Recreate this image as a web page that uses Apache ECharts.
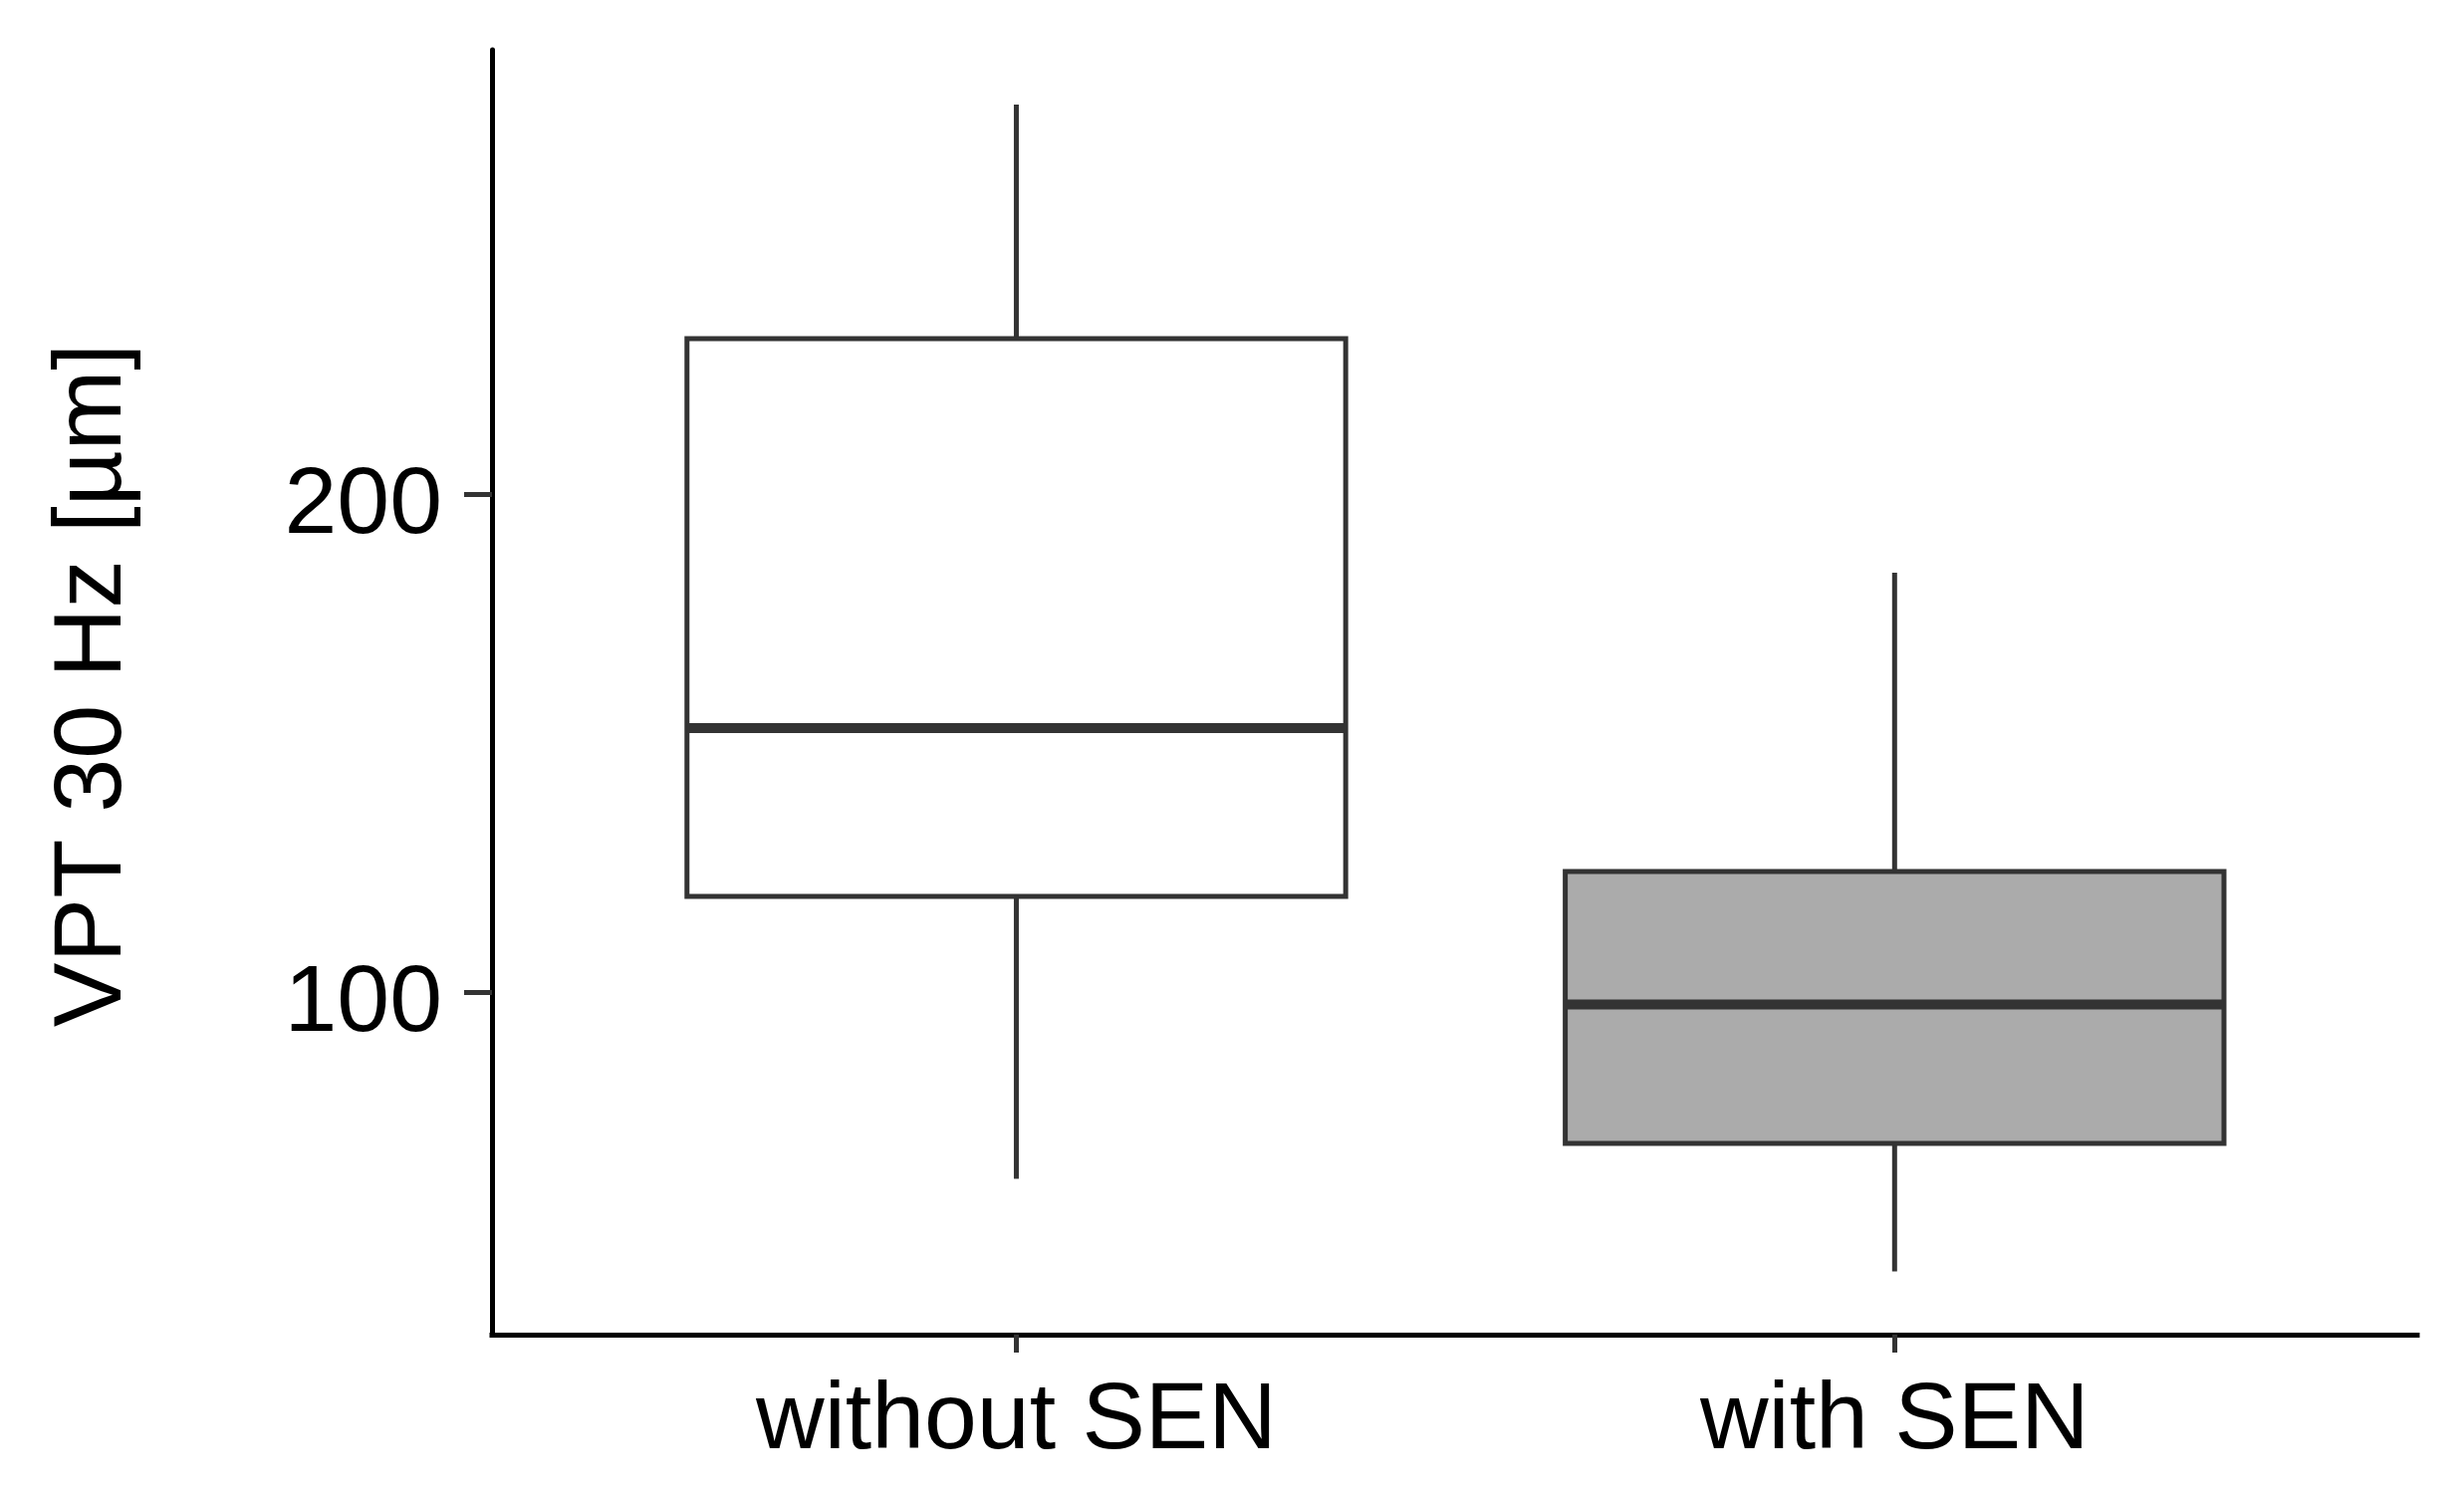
<!DOCTYPE html>
<html>
<head>
<meta charset="utf-8">
<script src="https://cdn.jsdelivr.net/npm/echarts@6/dist/echarts.min.js"></script>
<style>
  html, body { margin: 0; padding: 0; background: #ffffff; }
  #chart { width: 2474px; height: 1503px; }
</style>
</head>
<body>
<div id="chart"></div>
<script>
// ---- data ----
const categories   = ['without SEN', 'with SEN'];
const whiskerLow   = [62.6, 44.0];
const quartile1    = [119.3, 69.7];
const medianValue  = [153.1, 97.6];
const quartile3    = [231.3, 124.3];
const whiskerHigh  = [278.3, 184.3];
const yTickValues  = [100, 200];
const yTickLabels  = ['100', '200'];

// ---- styles ----
const boxFills = ['#FFFFFF', '#ABABAB'];
const lineColor = '#333333';
const BOX_WIDTH = 0.75;   // in category units

const boxData = categories.map((c, i) => [i + 1, whiskerLow[i], quartile1[i], medianValue[i], quartile3[i], whiskerHigh[i]]);

const chart = echarts.init(document.getElementById('chart'), null, { renderer: 'canvas' });

const option = {
  backgroundColor: '#ffffff',
  animation: false,
  grid: { left: 494, right: 47, top: 50, bottom: 163, containLabel: false },
  xAxis: {
    type: 'value',
    min: 0.403,
    max: 2.595,
    axisLine: { show: true, onZero: false, lineStyle: { color: '#000000', width: 5, cap: 'square' } },
    axisTick: { show: true, customValues: [1, 2], length: 18, lineStyle: { color: lineColor, width: 5 } },
    axisLabel: {
      show: true,
      customValues: [1, 2],
      formatter: v => categories[Math.round(v) - 1] || '',
      fontFamily: 'Liberation Sans, Arial, sans-serif',
      fontSize: 95,
      color: '#000000',
      margin: 40
    },
    splitLine: { show: false }
  },
  yAxis: {
    type: 'value',
    min: 31.3,
    max: 289.3,
    name: 'VPT 30 Hz [µm]',
    nameLocation: 'middle',
    nameGap: 351,
    nameTextStyle: {
      fontFamily: 'Liberation Sans, Arial, sans-serif',
      fontSize: 97,
      color: '#000000',
      padding: [0, 0, 0, 14]
    },
    axisLine: { show: true, onZero: false, lineStyle: { color: '#000000', width: 5 } },
    axisTick: { show: true, customValues: yTickValues, length: 28, lineStyle: { color: lineColor, width: 5 } },
    axisLabel: {
      show: true,
      customValues: yTickValues,
      formatter: v => yTickLabels[yTickValues.indexOf(v)] || String(v),
      fontFamily: 'Liberation Sans, Arial, sans-serif',
      fontSize: 95,
      color: '#000000',
      margin: 50,
      verticalAlign: 'top',
      lineHeight: 24
    },
    splitLine: { show: false }
  },
  series: [{
    type: 'custom',
    data: boxData,
    encode: { x: 0, y: [1, 2, 3, 4, 5] },
    renderItem: function (params, api) {
      const x = api.value(0);
      const lo = api.coord([x, api.value(1)]);
      const b1 = api.coord([x, api.value(2)]);
      const md = api.coord([x, api.value(3)]);
      const b3 = api.coord([x, api.value(4)]);
      const hi = api.coord([x, api.value(5)]);
      const halfW = api.size([BOX_WIDTH, 0])[0] / 2;
      const fill = boxFills[params.dataIndex];
      return {
        type: 'group',
        children: [
          { type: 'line', shape: { x1: hi[0], y1: hi[1], x2: b3[0], y2: b3[1] }, style: { stroke: lineColor, lineWidth: 5 } },
          { type: 'line', shape: { x1: lo[0], y1: lo[1], x2: b1[0], y2: b1[1] }, style: { stroke: lineColor, lineWidth: 5 } },
          { type: 'rect', shape: { x: b3[0] - halfW, y: b3[1], width: 2 * halfW, height: b1[1] - b3[1] }, style: { fill: fill, stroke: lineColor, lineWidth: 5 } },
          { type: 'line', shape: { x1: md[0] - halfW, y1: md[1], x2: md[0] + halfW, y2: md[1] }, style: { stroke: lineColor, lineWidth: 10 } }
        ]
      };
    }
  }]
};

chart.setOption(option);
</script>
</body>
</html>
